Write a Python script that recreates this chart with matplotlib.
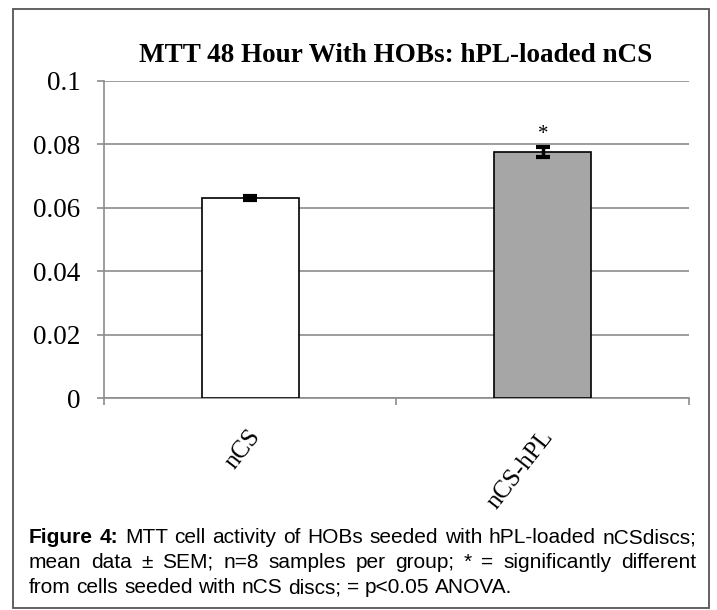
import matplotlib
matplotlib.use("Agg")
import matplotlib.pyplot as plt
from matplotlib.patches import Rectangle

categories = ["nCS", "nCS-hPL"]
values = [0.0631, 0.0776]
errors = [0.0006, 0.0016]
bar_colors = ["white", "#a6a6a6"]
yticks = [0, 0.02, 0.04, 0.06, 0.08, 0.1]
ytick_labels = ["0", "0.02", "0.04", "0.06", "0.08", "0.1"]
title = "MTT 48 Hour With HOBs: hPL-loaded nCS"
caption_lines = [
    [("Figure 4:", True), ("MTT cell activity of HOBs seeded with hPL-loaded nCSdiscs;", False)],
    [("mean data ± SEM; n=8 samples per group; * = significantly different", False)],
    [("from cells seeded with nCS discs; = p<0.05 ANOVA.", False)],
]
justify = [True, True, False]

W, H = 717, 610
fig = plt.figure(figsize=(W / 100, H / 100), dpi=100)

# outer frame
fig.patches.append(Rectangle((13 / W, 1 - 608 / H), 696 / W, 599 / H, transform=fig.transFigure,
                             fill=False, edgecolor="#555555", linewidth=1.3))

ax = fig.add_axes([104 / W, 1 - 398 / H, 585 / W, 317 / H])
x = [0, 1]
ax.bar(x, values, width=0.33, color=bar_colors, edgecolor="black", linewidth=1.2, zorder=3)
ax.errorbar(x, values, yerr=errors, fmt="none", ecolor="black", elinewidth=2.5, capsize=5,
            capthick=3, zorder=4)
ax.text(1, values[1] + errors[1] + 0.0008, "*", ha="center", va="bottom",
        fontsize=15, family="Liberation Serif")
ax.set_xlim(-0.5, 1.5)
ax.set_ylim(0, 0.1)
ax.set_yticks(yticks)
ax.set_yticklabels(ytick_labels, family="Liberation Serif", fontsize=19.5)
ax.yaxis.grid(True, color="#8c8c8c", linewidth=1.2, zorder=0)
ax.set_axisbelow(True)
for s in ["top", "right"]:
    ax.spines[s].set_visible(False)
for s in ["left", "bottom"]:
    ax.spines[s].set_color("#8c8c8c")
    ax.spines[s].set_linewidth(1.2)
ax.tick_params(axis="y", length=5, width=1.2, color="#8c8c8c", pad=12)
ax.set_xticks([-0.5, 0.5, 1.5])
ax.set_xticklabels(["", "", ""])
ax.tick_params(axis="x", length=5, width=1.2, color="#8c8c8c", direction="out")
for xi, lab in zip(x, categories):
    ax.annotate(lab, xy=(xi, 0), xycoords=("data", "axes fraction"),
                xytext=(-2, -20), textcoords="offset points",
                rotation=52, ha="right", va="top", rotation_mode="anchor",
                family="Liberation Serif", fontsize=18)

fig.text(396 / W, 1 - 62 / H, title, family="Liberation Serif", fontweight="bold",
         fontsize=19.5, ha="center", va="baseline")

# caption with justified text
fig.canvas.draw()
renderer = fig.canvas.get_renderer()
left_px, right_px = 29, 696
line_y = [543, 568, 593]
fs = 15
for line, jus, ly in zip(caption_lines, justify, line_y):
    words = []
    for seg, bold in line:
        for w in seg.split(" "):
            words.append((w, bold))
    texts = []
    widths = []
    for w, bold in words:
        t = fig.text(0, 1 - ly / H, w, fontsize=fs, family="Liberation Sans",
                     fontweight="bold" if bold else "normal", va="baseline", ha="left")
        bb = t.get_window_extent(renderer)
        texts.append(t)
        widths.append(bb.width)
    total = sum(widths)
    normal_gap = fs * 100 / 72 * 0.278
    if jus and len(words) > 1:
        gap = max((right_px - left_px - total) / (len(words) - 1), 2.0)
    else:
        gap = normal_gap
    cx = left_px
    for t, wd in zip(texts, widths):
        t.set_x(cx / W)
        cx += wd + gap

fig.savefig("out.png", dpi=100)
